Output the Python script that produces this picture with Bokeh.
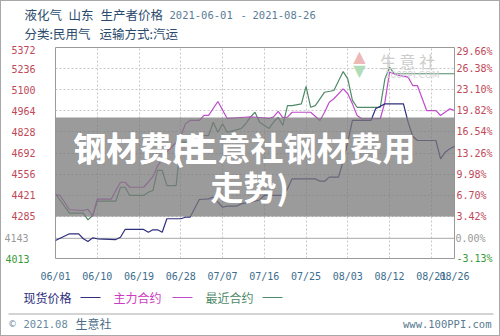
import pandas as pd
from bokeh.plotting import figure
from bokeh.layouts import column
from bokeh.models import Range1d, LinearAxis, FixedTicker, Span, BoxAnnotation, Label
from bokeh.core.properties import value
from bokeh.embed import file_html
from bokeh.resources import INLINE

# ---------------- data ----------------
spot_dates = ["06-01","06-04","06-06","06-07","06-08","06-09","06-10",
              "06-14","06-15","06-16","06-20","06-21","06-22","06-23","06-24","06-25",
              "06-28","06-29","06-30","07-02","07-04","07-05","07-06","07-07","07-08",
              "07-10","07-11","07-13","07-15","07-16","07-20","07-21","07-22",
              "07-27","07-28","07-29","07-30","08-01","08-02","08-03","08-04",
              "08-08","08-09","08-11","08-15","08-16","08-17","08-18",
              "08-22","08-23","08-24","08-25","08-26"]
spot_price = [4129,4172,4172,4140,4122,4146,4140,
              4135,4150,4200,4200,4182,4198,4198,4182,4269,
              4269,4279,4279,4393,4397,4408,4376,4343,4350,
              4350,4365,4376,4390,4420,4420,4462,4526,
              4526,4511,4511,4537,4537,4640,4762,4902,
              4902,4977,5009,5009,4891,4800,4773,
              4773,4655,4698,4720,4735]

main_dates = ["06-01","06-02","06-04","06-07","06-08","06-09","06-10",
              "06-13","06-14","06-15","06-16","06-17","06-20",
              "06-22","06-23","06-24","06-25","06-27","06-28","06-29","06-30",
              "07-02","07-03","07-04","07-06","07-07","07-08",
              "07-11","07-13","07-15","07-17","07-18","07-19","07-20","07-21","07-22",
              "07-26","07-28","07-29","07-30","07-31",
              "08-02","08-03","08-04","08-05","08-06",
              "08-10","08-11","08-12","08-14",
              "08-16","08-17","08-18","08-20","08-22","08-23","08-25","08-26"]
main_price = [4423,4419,4327,4322,4330,4285,4395,
              4395,4451,4504,4504,4472,4472,
              4540,4610,4650,4700,4760,4800,4880,4902,
              4902,4935,4935,5024,4970,4915,
              4921,4925,4921,4915,4925,4960,4921,4923,4955,
              4955,4902,4955,5020,5042,
              5106,5074,5009,4934,4913,
              4913,5020,5213,5192,
              5181,5127,5127,4966,4966,4934,4977,4966]

near_dates = ["06-01","06-04","06-07","06-08","06-09","06-10",
              "06-14","06-15","06-16","06-17","06-20","06-21","06-22","06-23","06-24","06-25",
              "06-27","06-28","07-01","07-02","07-04","07-05","07-06","07-07","07-08",
              "07-11","07-12","07-13","07-14","07-15","07-17","07-18","07-19","07-20",
              "07-21","07-22","07-24","07-25","07-26","07-27","07-29","07-31",
              "08-02","08-03","08-04","08-05","08-10","08-11","08-12","08-13","08-26"]
near_price = [4430,4305,4305,4262,4290,4382,
              4382,4472,4472,4419,4419,4440,4451,4580,4580,4483,
              4483,4762,4762,4805,4805,4891,4826,4881,4826,
              4850,4881,4923,4955,4891,4850,4891,4923,4870,
              4998,4998,5009,5121,4987,4998,5084,5095,
              5217,5170,5031,4987,4987,5170,5245,5203,5203]

x_labels = ["06/01","06/10","06/19","06/28","07/07","07/16","07/25","08/03","08/12","08/21","08/26"]
left_ticks = [5372, 5236, 5100, 4964, 4828, 4692, 4556, 4421, 4285, 4143, 4013]
right_ticks = [29.66, 26.38, 23.10, 19.82, 16.54, 13.26, 9.98, 6.70, 3.42, 0.00, -3.13]
series_names = ["现货价格", "主力合约", "最近合约"]

# ---------------- helpers ----------------
start = pd.Timestamp("2021-06-01")
def to_days(ds):
    return [(pd.Timestamp("2021-" + d) - start).days for d in ds]

x_ticks = [(pd.Timestamp("2021-" + s.replace("/", "-")) - start).days for s in x_labels]
XMAX = x_ticks[-1]
YMIN, YMAX = left_ticks[-1], left_ticks[0]

CJK = "Noto Sans CJK SC"
MONO = "DejaVu Sans Mono"
C_SPOT, C_MAIN, C_NEAR = "#2e2e7c", "#c04ccc", "#4f8a68"
C_RED, C_GREY, C_GREEN = "#c04858", "#9a9a9a", "#3a9a3a"

W = 498
HDR_H, MAIN_H, FTR_H = 44, 242, 48
# page coordinates of the plot frame
FL, FR, FT, FB = 47, 454, 47, 258
MAIN_TOP = 1 + HDR_H

def xd(px):
    return (px - FL) / (FR - FL) * XMAX
def yd(py):
    return YMAX - (py - FT) / (FB - FT) * (YMAX - YMIN)

def blank(h, top):
    f = figure(width=W, height=h, x_range=Range1d(1, 1 + W), y_range=Range1d(top + h, top),
               output_backend="svg", toolbar_location=None, min_border=0,
               x_axis_type=None, y_axis_type=None, frame_align=False)
    f.outline_line_color = None
    f.background_fill_color = "white"
    f.border_fill_color = "white"
    return f

def txt(f, xs, ys, texts, color, size, font=CJK, align="left"):
    f.text(x=xs, y=ys, text=texts, text_color=color, text_font=value(font),
           text_font_size=f"{size}px", text_align=align, text_baseline="middle")

# ---------------- header ----------------
hdr = blank(HDR_H, 1)
txt(hdr, [24, 68, 100, 24, 99], [14, 14, 14, 33, 33],
    ["液化气", "山东", "生产者价格", "分类:民用气", "运输方式:汽运"], "#2b4a6c", 12.5)
txt(hdr, [169, 240, 252], [14, 14, 14], ["2021-06-01", "-", "2021-08-26"], "#5b7d96", 10.5, MONO)

# ---------------- main chart ----------------
p = figure(width=W, height=MAIN_H, x_range=Range1d(0, XMAX), y_range=Range1d(YMIN, YMAX),
           output_backend="svg", toolbar_location=None, frame_align=False,
           min_border_left=FL - 1, min_border_right=W + 1 - FR,
           min_border_top=FT - MAIN_TOP, min_border_bottom=MAIN_TOP + MAIN_H - FB)
p.background_fill_color = "white"
p.border_fill_color = "white"
p.outline_line_color = "#9a9a9a"

def style_axis(ax, color, standoff):
    ax.axis_line_color = None
    ax.major_tick_line_color = None
    ax.minor_tick_line_color = None
    ax.major_tick_out = 0
    ax.major_tick_in = 0
    ax.minor_tick_out = 0
    ax.minor_tick_in = 0
    ax.major_label_standoff = standoff
    ax.major_label_text_font = MONO
    ax.major_label_text_font_size = "10px"
    ax.major_label_text_color = color

xa = p.xaxis[0]
xa.ticker = FixedTicker(ticks=x_ticks)
xa.major_label_overrides = {t: l for t, l in zip(x_ticks, x_labels)}
style_axis(xa, "#3d6d8c", 12)

# left axes: red labels, plus grey (zero) and green (below zero) labels
ya = p.yaxis[0]
ya.ticker = FixedTicker(ticks=left_ticks)
ya.major_label_overrides = {t: (str(t) if t > left_ticks[-2] else "") for t in left_ticks}
style_axis(ya, C_RED, 20)
for t, c, so in ((left_ticks[-2], C_GREY, -20), (left_ticks[-1], C_GREEN, -28)):
    ax = LinearAxis(ticker=FixedTicker(ticks=[t]), major_label_overrides={t: str(t)})
    style_axis(ax, c, so)
    p.add_layout(ax, "left")

# right axes (percent)
p.extra_y_ranges = {"pct": Range1d(right_ticks[-1], right_ticks[0])}
ra = LinearAxis(y_range_name="pct", ticker=FixedTicker(ticks=right_ticks))
ra.major_label_overrides = {t: (f"{t:.2f}%" if t > 0 else "") for t in right_ticks}
style_axis(ra, C_RED, 2)
p.add_layout(ra, "right")
for t, c, so in ((right_ticks[-1], C_GREEN, -39), (right_ticks[-2], C_GREY, -40)):
    ax = LinearAxis(y_range_name="pct", ticker=FixedTicker(ticks=[t]),
                    major_label_overrides={t: f"{t:.2f}%"})
    style_axis(ax, c, so)
    p.add_layout(ax, "right")

# grids
p.xgrid.ticker = FixedTicker(ticks=x_ticks)
p.ygrid.ticker = FixedTicker(ticks=[t for t in left_ticks if t != left_ticks[-2]])
for g in (p.xgrid[0], p.ygrid[0]):
    g.grid_line_color = "#c8c8c8"
    g.grid_line_dash = "2 2"
    g.grid_line_width = 1
p.add_layout(Span(location=left_ticks[-2], dimension="width", line_color="#a8a8a8",
                  line_width=1, level="underlay"))

# series
p.line(to_days(near_dates), near_price, line_color=C_NEAR, line_width=1.2)
p.line(to_days(main_dates), main_price, line_color=C_MAIN, line_width=1.2)
p.line(to_days(spot_dates), spot_price, line_color=C_SPOT, line_width=1.2)

def lab(text, px, py, color, size, font=CJK, align="left", style="normal"):
    p.add_layout(Label(x=xd(px), y=yd(py), text=text, text_color=color,
                       text_font_size=f"{size}px", text_font=font, text_align=align,
                       text_baseline="middle", text_font_style=style))

# watermark
lab("▲", 357, 56, "#ecb8b8", 16, "DejaVu Sans", "center")
lab("▼", 357, 70, "#b0dcb8", 16, "DejaVu Sans", "center")
lab("生 意 社", 378, 60, "#cccccc", 16)
lab("100PPI.COM", 383, 74, "#d4d4d4", 9, "DejaVu Sans")

# overlay banner
p.add_layout(BoxAnnotation(left=0, right=XMAX, top=yd(117), bottom=yd(216),
                           fill_color="#7a7a7a", fill_alpha=0.75, line_color=None))
lab("钢材费用", 65, 146, "white", 33, style="bold")
lab("钢材费(生意社钢材费用", 65, 146, "white", 33, style="bold")
lab("走势)", 205, 185, "white", 33, style="bold")

# ---------------- footer (legend + credits) ----------------
ftr = blank(FTR_H, MAIN_TOP + MAIN_H)
leg_x = [23, 113, 205]
for x0, name, c in zip(leg_x, series_names, [C_SPOT, "#cc3cc0", C_NEAR]):
    txt(ftr, [x0], [297], [name], c, 12)
ftr.segment(x0=[80, 172, 262], y0=[297, 297, 297], x1=[100, 192, 282], y1=[297, 297, 297],
            line_color=[C_SPOT, C_MAIN, C_NEAR], line_width=1.2)
ftr.segment(x0=[8], y0=[313.5], x1=[493], y1=[313.5], line_color="#a8a8a8", line_width=1)
txt(ftr, [12], [323], ["©"], "#6a8aa0", 9, "DejaVu Sans", "center")
txt(ftr, [23], [323], ["2021.08"], "#6a8aa0", 10.5, MONO)
txt(ftr, [75], [323], ["生意社"], "#4a6a85", 12)
txt(ftr, [491], [323], ["www.100PPI.com"], "#5a7a90", 10.5, MONO, "right")

layout = column(hdr, p, ftr, spacing=0, styles={"border": "1px solid #a8a8a8"})
open("out.html", "w").write(file_html(layout, INLINE))
